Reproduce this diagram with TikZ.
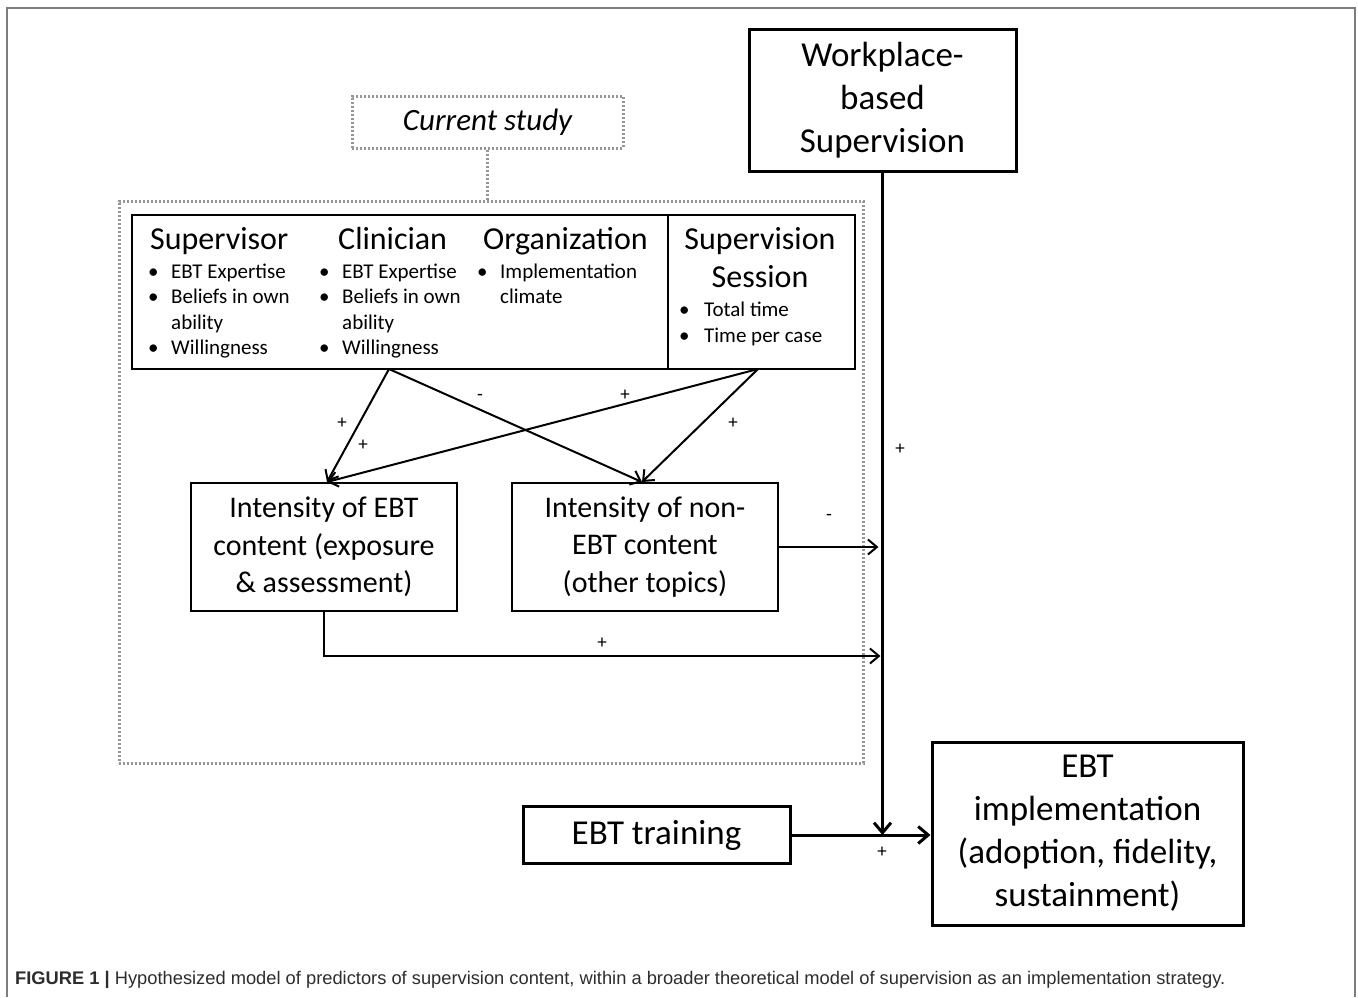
\documentclass[tikz,border=0pt]{standalone}
\usepackage{fontspec}
\setmainfont{Carlito}
\newfontfamily\capfont{Liberation Sans}
\usetikzlibrary{arrows.meta}
\definecolor{dotgray}{RGB}{150,150,150}
\definecolor{framegray}{RGB}{125,125,125}
\definecolor{captxt}{RGB}{45,45,45}
\begin{document}
\begin{tikzpicture}[x=1pt,y=-1pt,
  bigbox/.style={draw, line width=3pt, align=center, inner sep=0pt, font=\fontsize{35}{43}\selectfont},
  midbox/.style={draw, line width=2pt, align=center, inner sep=0pt, font=\fontsize{30}{37.5}\selectfont},
  dotbox/.style={draw=dotgray, line width=3pt, dash pattern=on 2.4pt off 1.6pt, inner sep=0pt},
  dotline/.style={draw=dotgray, line width=3pt, dash pattern=on 2.4pt off 1.6pt},
  head/.style={anchor=base west, inner sep=0pt, font=\fontsize{32}{38}\selectfont},
  item/.style={anchor=base west, inner sep=0pt, font=\fontsize{21}{25.6}\selectfont},
  sign/.style={inner sep=0pt, font=\fontsize{19}{19}\selectfont},
  arr/.style={line width=2pt, -{Straight Barb[length=9pt,width=15pt,line width=2pt]}},
  thickarr/.style={line width=3pt, -{Straight Barb[length=10pt,width=17pt,line width=3pt]}},
  framel/.style={draw=framegray, line width=1.5pt}
]
\useasboundingbox (0,0) rectangle (1358,997);

% outer frame
\coordinate (fbl) at (7,997);
\coordinate (ftl) at (7,8);
\coordinate (ftr) at (1355,8);
\coordinate (fbr) at (1355,997);
\draw[framel] (fbl) -- (ftl) -- (ftr) -- (fbr);

% current study
\node[dotbox, minimum width=271, minimum height=52, font=\fontsize{31}{36}\selectfont\itshape] (curr) at (487.5,122) {Current study};
\node[dotbox, minimum width=744, minimum height=562] (scope) at (491,482) {};
\draw[dotline] (curr.south) -- (curr.south |- scope.north);

% factors box
\node[draw, line width=2.5pt, minimum width=723, minimum height=154, inner sep=0pt] (factors) at (493.5,292) {};
\coordinate (divtop) at (668,215);
\coordinate (divbot) at (668,369);
\draw[line width=2.5pt] (divtop) -- (divbot);

\node[head] (hsup) at (150,249) {Supervisor};
\node[item] (s1b) at (148,278) {•};
\node[item] (s1) at (171,278) {EBT Expertise};
\node[item] (s2b) at (148,303.5) {•};
\node[item] (s2) at (171,303.5) {Beliefs in own};
\node[item] (s3) at (171,329) {ability};
\node[item] (s4b) at (148,354.5) {•};
\node[item] (s4) at (171,354.5) {Willingness};

\node[head] (hcli) at (338,249) {Clinician};
\node[item] (c1b) at (319,278) {•};
\node[item] (c1) at (342,278) {EBT Expertise};
\node[item] (c2b) at (319,303.5) {•};
\node[item] (c2) at (342,303.5) {Beliefs in own};
\node[item] (c3) at (342,329) {ability};
\node[item] (c4b) at (319,354.5) {•};
\node[item] (c4) at (342,354.5) {Willingness};

\node[head] (horg) at (483,249) {Organization};
\node[item] (o1b) at (477,278) {•};
\node[item] (o1) at (500,278) {Implementation};
\node[item] (o2) at (500,303.5) {climate};

\node[head, anchor=base] (hses1) at (760,249) {Supervision};
\node[head, anchor=base] (hses2) at (760,287) {Session};
\node[item] (t1b) at (679,316) {•};
\node[item] (t1) at (704,316) {Total time};
\node[item] (t2b) at (679,342) {•};
\node[item] (t2) at (704,342) {Time per case};

% intensity boxes
\node[midbox, minimum width=266, minimum height=128] (ebt) at (324,547) {Intensity of EBT\\content (exposure\\\& assessment)};
\node[midbox, minimum width=266, minimum height=128] (nonebt) at (645,547) {Intensity of non-\\EBT content\\(other topics)};

% top right
\node[bigbox, minimum width=267, minimum height=142] (wp) at (882.5,100) {Workplace-\\based\\Supervision};
\node[bigbox, minimum width=267, minimum height=57] (train) at (656.5,835) {EBT training};
\node[bigbox, minimum width=311, minimum height=183] (impl) at (1087.5,833.5) {EBT\\implementation\\(adoption, fidelity,\\sustainment)};

% arrows from factors
\coordinate (srcA) at (389,369);
\coordinate (srcB) at (758,369);
\draw[arr] (srcA) -- ([xshift=3pt]ebt.north);
\draw[arr] (srcA) -- ([xshift=-3pt]nonebt.north);
\draw[arr] (srcB) -- ([xshift=3pt]ebt.north);
\draw[arr] (srcB) -- ([xshift=-3pt]nonebt.north);

\node[sign] (l1) at (342,423) {+};
\node[sign] (l2) at (363,445) {+};
\node[sign] (l3) at (480,397) {-};
\node[sign] (l4) at (625,395) {+};
\node[sign] (l5) at (733,423) {+};

% main vertical
\coordinate (join) at (882.5,835);
\draw[thickarr] (wp.south) -- (join);
\draw[thickarr] (train.east) -- (train.east -| impl.west);
\node[sign] (l6) at (900,449) {+};
\node[sign] (l7) at (882,852) {+};

% intensity to vertical
\draw[arr] (nonebt.east) -- ([xshift=-4pt]nonebt.east -| join);
\node[sign] (l8) at (829,517) {-};
\coordinate (bend) at (324,656);
\draw[arr] (ebt.south) |- ([xshift=-2pt]join |- bend);
\node[sign] (l9) at (602,643) {+};

% caption
\node[anchor=base west, inner sep=0pt, font=\capfont\fontsize{18.3}{21}\selectfont, text=captxt] (cap) at (15,984) {\textbf{FIGURE 1 |} Hypothesized model of predictors of supervision content, within a broader theoretical model of supervision as an implementation strategy.};
\end{tikzpicture}
\end{document}
